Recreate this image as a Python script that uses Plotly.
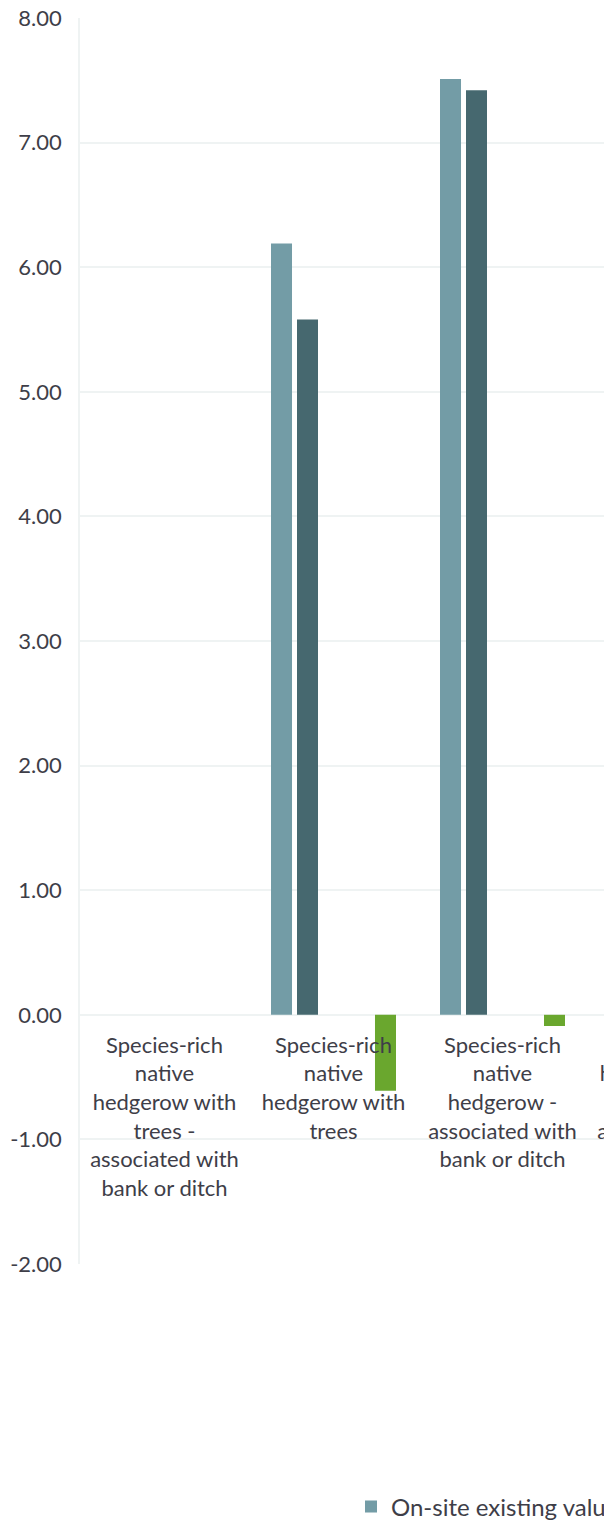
import plotly.graph_objects as go

categories = [
    "Species-rich<br>native<br>hedgerow with<br>trees -<br>associated with<br>bank or ditch",
    "Species-rich<br>native<br>hedgerow with<br>trees",
    "Species-rich<br>native<br>hedgerow -<br>associated with<br>bank or ditch",
    "Native<br>hedgerow with<br>trees -<br>associated with<br>bank or ditch",
]
series_names = [
    "On-site existing value",
    "On-site post-intervention value",
    "Off-site existing value",
    "Off-site post-intervention value",
    "Net change",
]
onsite_existing = [0.00, 6.19, 7.51, None]
onsite_post = [0.00, 5.58, 7.42, None]
offsite_existing = [0.00, 0.00, 0.00, None]
offsite_post = [0.00, 0.00, 0.00, None]
net_change = [0.00, -0.61, -0.09, None]
series_values = [onsite_existing, onsite_post, offsite_existing, offsite_post, net_change]
colors = ["#739CA6", "#46686F", "#A9C4CA", "#2E4A50", "#6AA72E"]

y_ticks = [-2, -1, 0, 1, 2, 3, 4, 5, 6, 7, 8]
y_ticktext = [f"{v:.2f}" for v in y_ticks]

FONT = "Lato"
TXT = "#3E3E48"
GRID = "#EFF3F3"

fig = go.Figure()
for name, vals, col in zip(series_names, series_values, colors):
    fig.add_trace(go.Bar(x=categories, y=vals, name=name,
                         marker=dict(color=col, line=dict(width=0))))

# the html page adds an 8px body margin; figure coordinates are offset by it
band = 169
left = 72
top = 10
bottom_px = 1256
H = 1517
n_slots = 10  # plot area continues beyond the visible window
plot_w = band * n_slots
W = left + plot_w + 20
plot_h = bottom_px - top

fig.update_layout(
    width=W, height=H,
    margin=dict(l=left, r=W - left - plot_w, t=top, b=H - bottom_px, autoexpand=False),
    plot_bgcolor="white", paper_bgcolor="white",
    barmode="group", bargap=0.2308, bargroupgap=0.192,
    font=dict(family=FONT, size=22, color=TXT),
    showlegend=True,
    legend=dict(orientation="h", x=(343 - left) / plot_w, xanchor="left",
                y=-(1499 - bottom_px) / plot_h, yanchor="middle",
                font=dict(family=FONT, size=24, color=TXT),
                itemwidth=30, traceorder="normal"),
    xaxis=dict(anchor="free", position=0.2, showline=False, ticks="",
               showgrid=False, automargin=False,
               range=[-0.5, n_slots - 0.5],
               tickfont=dict(family=FONT, size=22, color=TXT),
               ticklabelstandoff=15, ticklabeloverflow="allow"),
    yaxis=dict(range=[-2, 8], tickvals=y_ticks, ticktext=y_ticktext,
               showgrid=True, gridcolor=GRID, gridwidth=1.6, automargin=False,
               zeroline=False, showline=True, linecolor=GRID, linewidth=1.6,
               ticks="", ticklabelstandoff=12, ticklabeloverflow="allow",
               tickfont=dict(family=FONT, size=22, color=TXT)),
)
fig.write_html("out.html")
